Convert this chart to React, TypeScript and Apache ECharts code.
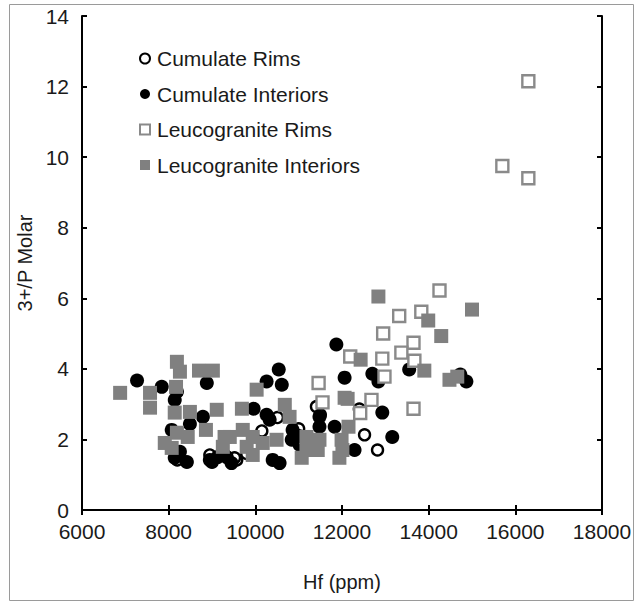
import React, { useEffect, useRef } from "react";
import * as echarts from "echarts";

const seriesNames = ["Cumulate Rims", "Cumulate Interiors", "Leucogranite Rims", "Leucogranite Interiors"];

const xTicks = { min: 6000, max: 18000, interval: 2000 };
const yTicks = { min: 0, max: 14, interval: 2 };

const cumulateRims: number[][] = [
  [8950, 1.56], [9290, 1.56], [9570, 1.42], [9520, 1.48], [10150, 2.24], [10510, 2.62],
  [11410, 2.93], [11500, 2.7], [12400, 2.86], [12520, 2.13], [12820, 1.7], [8200, 1.42],
  [9800, 1.6], [11000, 2.3],
];

const cumulateInteriors: number[][] = [
  [7270, 3.67], [7840, 3.49], [8880, 3.6], [8190, 3.35], [8140, 3.12], [8790, 2.64],
  [8490, 2.44], [8070, 2.27], [8260, 1.65], [8140, 1.48], [8420, 1.36], [8950, 1.42],
  [9130, 1.5], [9340, 1.5], [9450, 1.33], [9000, 1.36], [11870, 4.69], [12060, 3.75],
  [10540, 3.98], [10260, 3.64], [10610, 3.55], [9960, 2.87], [10260, 2.7], [10330, 2.56],
  [10860, 2.27], [11480, 2.64], [11480, 2.36], [11830, 2.36], [10840, 1.99], [11020, 1.85],
  [10400, 1.42], [10560, 1.33], [12700, 3.86], [12840, 3.64], [13550, 3.98], [14870, 3.64],
  [14730, 3.84], [12930, 2.76], [13160, 2.07], [12290, 1.7], [11000, 2.1], [11300, 1.9],
];

const leucograniteRims: number[][] = [
  [16300, 12.15], [15700, 9.75], [16300, 9.4], [14250, 6.22], [13320, 5.5], [13830, 5.62],
  [12950, 5.0], [13650, 4.74], [13370, 4.46], [13670, 4.23], [12930, 4.29], [12190, 4.35],
  [12980, 3.78], [12680, 3.12], [13650, 2.87], [12420, 2.75], [11460, 3.6], [11550, 3.05],
];

const leucograniteInteriors: number[][] = [
  [12840, 6.05], [15000, 5.68], [13990, 5.37], [14290, 4.93], [12430, 4.26], [13900, 3.95],
  [14480, 3.69], [14660, 3.78], [12130, 3.15], [12150, 2.36], [12010, 1.7], [6880, 3.32],
  [7570, 3.32], [7570, 2.9], [8190, 4.2], [8260, 3.92], [8700, 3.95], [9020, 3.95],
  [8170, 3.49], [8140, 2.76], [8490, 2.78], [9110, 2.84], [8860, 2.27], [8190, 2.19],
  [8440, 2.07], [7910, 1.9], [8070, 1.76], [9290, 2.07], [10030, 3.41], [9690, 2.87],
  [10680, 2.98], [10790, 2.64], [9710, 2.27], [9410, 2.07], [9940, 2.07], [10170, 1.9],
  [10490, 1.99], [9250, 1.79], [9800, 1.79], [9940, 1.56], [11180, 2.07], [11180, 1.7],
  [11480, 1.99], [11440, 1.7], [11070, 1.48], [11990, 1.99], [11940, 1.48], [12060, 3.18],
];

const FONT = "'Liberation Sans', Arial, sans-serif";

export default function App() {
  const ref = useRef<HTMLDivElement>(null);
  useEffect(() => {
    if (!ref.current) return;
    const chart = echarts.init(ref.current, undefined, { renderer: "svg" });
    const axisLine = { show: true, lineStyle: { color: "#000", width: 2 } };
    const axisTick = { show: true, inside: true, length: 5, lineStyle: { color: "#000", width: 2 } };
    const labelStyle = { fontFamily: FONT, fontSize: 21, color: "#1a1a1a" };
    const nameStyle = { fontFamily: FONT, fontSize: 20, color: "#1a1a1a" };
    chart.setOption({
      animation: false,
      backgroundColor: "#fff",
      grid: { left: 82, right: 34, top: 16, bottom: 95, containLabel: false },
      graphic: [
        {
          type: "rect",
          shape: { x: 9.5, y: 4.5, width: 624, height: 596 },
          style: { fill: "none", stroke: "#9a9a9a", lineWidth: 1 },
          silent: true,
        },
      ],
      legend: {
        left: 134,
        top: 43,
        orient: "vertical",
        itemWidth: 10,
        itemHeight: 10,
        itemGap: 14.5,
        textStyle: { fontFamily: FONT, fontSize: 21, color: "#1a1a1a", padding: [0, 0, 0, 2] },
        data: [
          { name: seriesNames[0], icon: "circle" },
          { name: seriesNames[1], icon: "circle" },
          { name: seriesNames[2], icon: "rect" },
          { name: seriesNames[3], icon: "rect" },
        ],
      },
      xAxis: [
        {
          type: "value",
          position: "bottom",
          ...xTicks,
          name: "Hf (ppm)",
          nameLocation: "middle",
          nameGap: 62,
          nameTextStyle: { ...nameStyle },
          axisLine,
          axisTick,
          splitLine: { show: false },
          axisLabel: { ...labelStyle, margin: 11, formatter: (v: number) => String(v) },
        },
        {
          type: "value",
          position: "top",
          ...xTicks,
          axisLine,
          axisTick,
          splitLine: { show: false },
          axisLabel: { show: false },
        },
      ],
      yAxis: [
        {
          type: "value",
          position: "left",
          ...yTicks,
          name: "3+/P Molar",
          nameLocation: "middle",
          nameGap: 46,
          nameTextStyle: { ...nameStyle },
          axisLine,
          axisTick,
          splitLine: { show: false },
          axisLabel: { ...labelStyle, margin: 13 },
        },
        {
          type: "value",
          position: "right",
          ...yTicks,
          axisLine,
          axisTick,
          splitLine: { show: false },
          axisLabel: { show: false },
        },
      ],
      series: [
        {
          name: seriesNames[0],
          type: "scatter",
          symbol: "circle",
          symbolSize: 11,
          data: cumulateRims,
          itemStyle: { color: "#fff", borderColor: "#000", borderWidth: 2.4, opacity: 1 },
        },
        {
          name: seriesNames[1],
          type: "scatter",
          symbol: "circle",
          symbolSize: 14,
          data: cumulateInteriors,
          itemStyle: { color: "#000", opacity: 1 },
        },
        {
          name: seriesNames[2],
          type: "scatter",
          symbol: "rect",
          symbolSize: 12,
          data: leucograniteRims,
          itemStyle: { color: "#fff", borderColor: "#8a8a8a", borderWidth: 2.4, opacity: 1 },
        },
        {
          name: seriesNames[3],
          type: "scatter",
          symbol: "rect",
          symbolSize: 14,
          data: leucograniteInteriors,
          itemStyle: { color: "#808080", opacity: 1 },
        },
      ],
    });
    return () => chart.dispose();
  }, []);
  return <div ref={ref} style={{ width: 636, height: 605, position: "absolute", left: 0, top: 0 }} />;
}
